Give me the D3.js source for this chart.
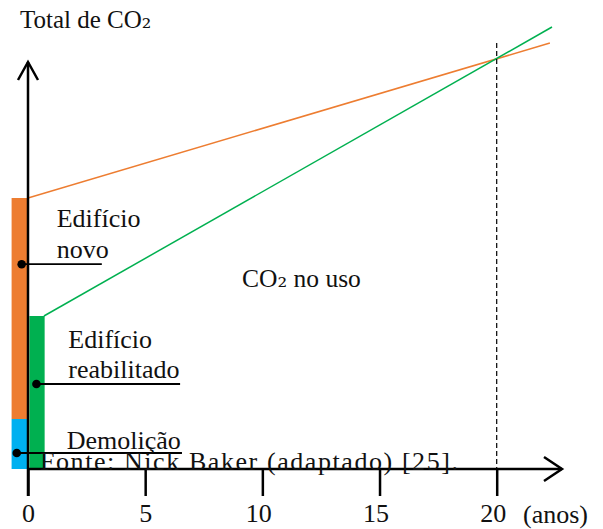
<!DOCTYPE html>
<html>
<head>
<meta charset="utf-8">
<script src="https://cdn.jsdelivr.net/npm/d3@7"></script>
<style>
  html, body { margin: 0; padding: 0; background: #fff; }
  svg text { font-family: "Liberation Serif", "Times New Roman", serif; fill: #111; }
</style>
</head>
<body>
<svg id="chart" width="603" height="529"></svg>
<script>
// ---- data ----
const xTicks = [0, 5, 10, 15, 20];
const xUnitLabel = "(anos)";
const yTitle = "Total de CO₂";
// embodied CO2 bars (stacked), [yearStart, yearEnd, from, to]
const barNames = ["Demolição", "Edifício novo", "Edifício reabilitado"];
const barYears = [[-0.70, -0.01], [-0.70, -0.01], [0.06, 0.71]];
const barFrom = [0, 12.5, 0];
const barTo = [12.5, 67.75, 38.25];
const barColors = ["#00B0F0", "#ED7D31", "#00B050"];
// operational CO2 lines
const newLineYears = [0, 22.27];
const newLineValues = [67.75, 106.5];
const rehabLineYears = [0.68, 22.36];
const rehabLineValues = [38.25, 110.5];
const breakEvenYear = 20;
const breakEvenTop = 106.5;
// leader dots [dotYear, dotValue, endYear]
const leaderDotYears = [-0.27, 0.36, -0.48];
const leaderDotValues = [51.2, 21.25, 4];
const leaderEndYears = [3.15, 6.49, 6.57];

const svg = d3.select("#chart");
const x = d3.scaleLinear().domain([0, 20]).range([28, 496.7]);
const y = d3.scaleLinear().domain([0, 100]).range([469, 69]);

// bars
svg.selectAll("rect.bar").data(barNames).join("rect")
  .attr("class", "bar")
  .attr("x", (d, i) => x(barYears[i][0]))
  .attr("width", (d, i) => x(barYears[i][1]) - x(barYears[i][0]))
  .attr("y", (d, i) => y(barTo[i]))
  .attr("height", (d, i) => y(barFrom[i]) - y(barTo[i]))
  .attr("fill", (d, i) => barColors[i]);

// lines
const line = d3.line().x(d => x(d[0])).y(d => y(d[1]));
svg.append("path").datum(newLineYears.map((t, i) => [t, newLineValues[i]]))
  .attr("d", line).attr("fill", "none").attr("stroke", "#ED7D31").attr("stroke-width", 1.5);
svg.append("path").datum(rehabLineYears.map((t, i) => [t, rehabLineValues[i]]))
  .attr("d", line).attr("fill", "none").attr("stroke", "#00B050").attr("stroke-width", 1.5);

// dashed break-even
svg.append("line")
  .attr("x1", x(breakEvenYear)).attr("x2", x(breakEvenYear))
  .attr("y1", y(breakEvenTop)).attr("y2", y(0))
  .attr("stroke", "#000").attr("stroke-width", 1.2).attr("stroke-dasharray", "5,3");

// x axis ticks & labels
const xAxis = d3.axisBottom(x).tickValues(xTicks).tickSize(27).tickPadding(8);
const gx = svg.append("g").attr("transform", `translate(0,${y(0)})`).call(xAxis);
gx.select(".domain").remove();
gx.selectAll(".tick line").attr("stroke", "#000").attr("stroke-width", 2.5);
gx.selectAll(".tick text")
  .attr("font-size", 26).attr("fill", "#111")
  .attr("font-family", "Liberation Serif, Times New Roman, serif")
  .attr("dx", d => d >= 10 ? "-4" : "0");

// axis lines with open arrows
const axisG = svg.append("g").attr("stroke", "#000").attr("stroke-width", 2.5).attr("fill", "none");
axisG.append("line").attr("x1", x(0)).attr("x2", 562).attr("y1", y(0)).attr("y2", y(0));
axisG.append("polyline").attr("points", `544,${y(0) - 12} 562,${y(0)} 544,${y(0) + 12}`);
axisG.append("line").attr("x1", x(0)).attr("x2", x(0)).attr("y1", y(0) + 27).attr("y2", 62);
axisG.append("polyline").attr("points", `${x(0) - 10},80 ${x(0)},62 ${x(0) + 10},80`);

// leader dots and lines
const lg = svg.append("g");
leaderDotYears.forEach((t, i) => {
  lg.append("line")
    .attr("x1", x(t)).attr("x2", x(leaderEndYears[i]))
    .attr("y1", y(leaderDotValues[i])).attr("y2", y(leaderDotValues[i]))
    .attr("stroke", "#000").attr("stroke-width", 1.8);
  lg.append("circle")
    .attr("cx", x(t)).attr("cy", y(leaderDotValues[i])).attr("r", 4.3).attr("fill", "#000");
});

// texts
const fs = 26;
function txt(s, px, py, size) {
  const t = svg.append("text").attr("x", px).attr("y", py).attr("font-size", size || fs);
  const parts = s.split("₂");
  parts.forEach((p, i) => {
    t.append("tspan").text(p);
    if (i < parts.length - 1) {
      t.append("tspan").style("font-family", '"DejaVu Serif", serif').attr("font-size", (size || fs) * 0.95).text("₂");
    }
  });
  return t;
}
txt(yTitle, 20, 28, 25);
txt("Edifício", 56.7, 227);
txt("novo", 56.7, 258);
txt("Edifício", 68.3, 348);
txt("reabilitado", 68.3, 378);
txt("Demolição", 66.7, 449);
txt("CO₂ no uso", 242, 287, 25.5);
txt("Fonte: Nick Baker (adaptado) [25].", 40, 470)
  .attr("textLength", 418).attr("lengthAdjust", "spacing");
txt(xUnitLabel, 523, 523);
</script>
</body>
</html>
